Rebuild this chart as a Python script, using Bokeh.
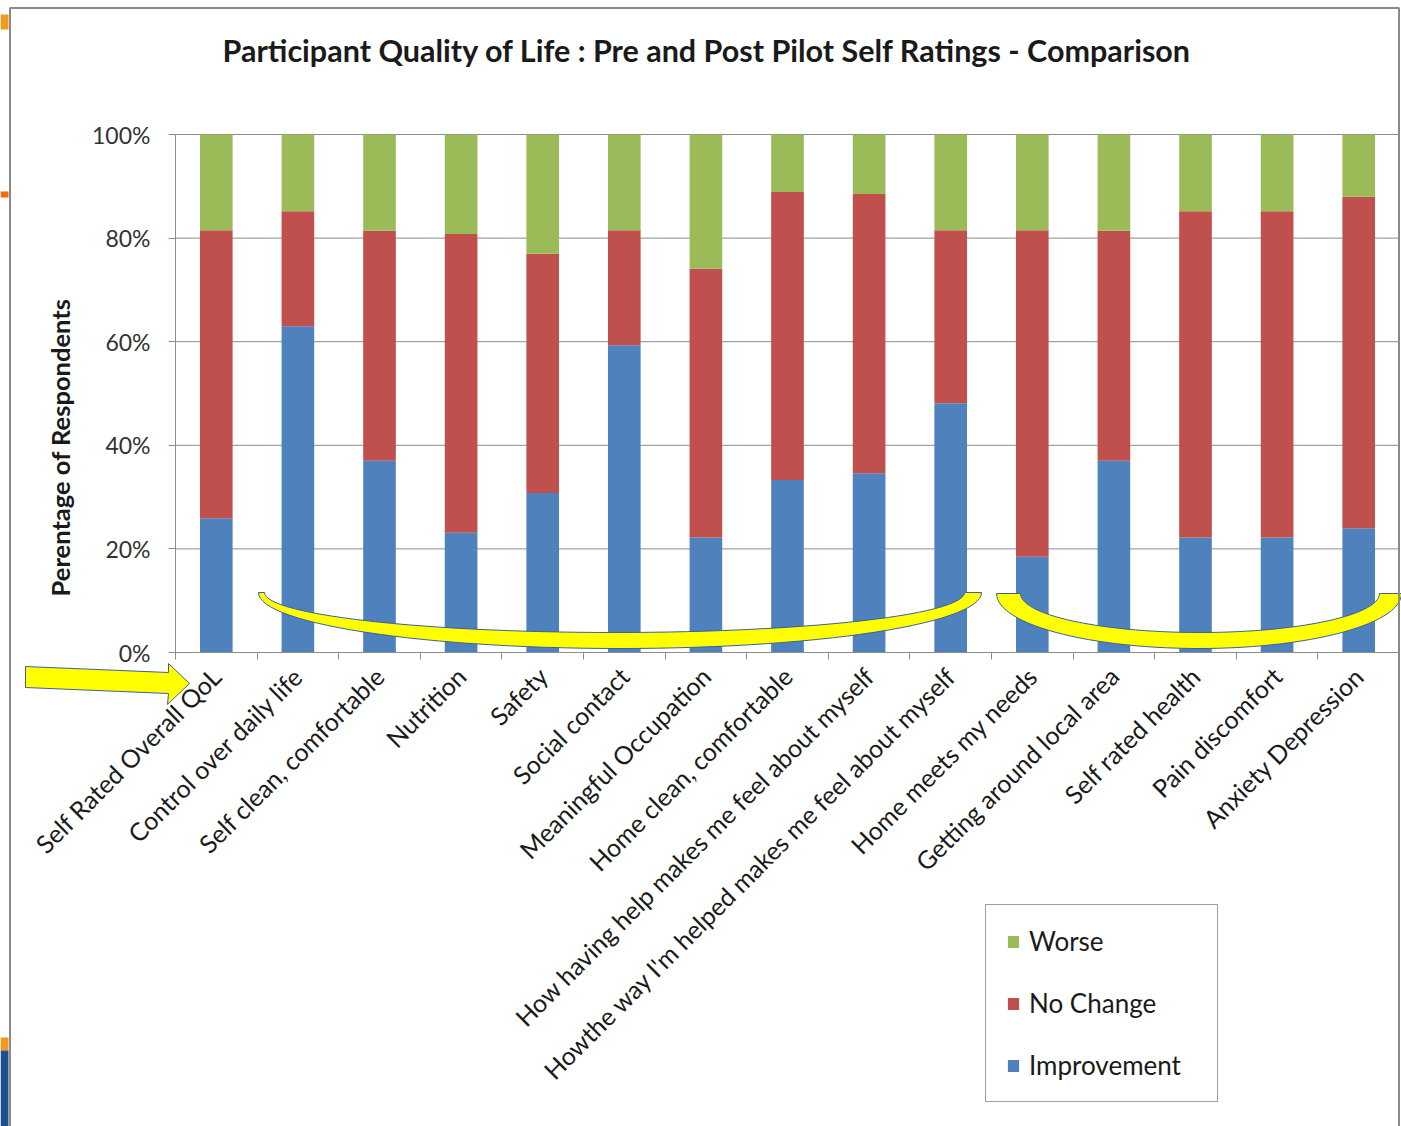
import math
from bokeh.plotting import figure
from bokeh.models import (Range1d, FixedTicker, PrintfTickFormatter, Legend, LegendItem,
                          PolyAnnotation, BoxAnnotation, Label, ColumnDataSource)
from bokeh.embed import file_html
from bokeh.resources import INLINE

# ---------------- data ----------------
categories = [
    "Self Rated Overall QoL",
    "Control over daily life",
    "Self clean, comfortable",
    "Nutrition",
    "Safety",
    "Social contact",
    "Meaningful Occupation",
    "Home clean, comfortable",
    "How having help makes me feel about myself",
    "Howthe way I'm helped makes me feel about myself",
    "Home meets my needs",
    "Getting around local area",
    "Self rated health",
    "Pain discomfort",
    "Anxiety Depression",
]
improvement = [25.9, 63.0, 37.0, 23.1, 30.8, 59.3, 22.2, 33.3, 34.6, 48.1, 18.5, 37.0, 22.2, 22.2, 24.0]
no_change = [55.6, 22.2, 44.4, 57.7, 46.2, 22.2, 51.9, 55.6, 53.9, 33.4, 63.0, 44.4, 63.0, 63.0, 64.0]
worse = [18.5, 14.8, 18.6, 19.2, 23.0, 18.5, 25.9, 11.1, 11.5, 18.5, 18.5, 18.6, 14.8, 14.8, 12.0]
series_names = ["Improvement", "No Change", "Worse"]
y_ticks = [0, 20, 40, 60, 80, 100]
title_text = "Participant Quality of Life : Pre and Post Pilot Self Ratings - Comparison"
y_title = "Perentage of Respondents"

# ---------------- layout (pixels of the 1401x1126 page) ----------------
W, H = 1401, 1126
FL, FR, FT, FB = 175, 1399, 134, 652      # where the plot area of the original chart lies
n = len(categories)
Y0, Y1 = 0, 100

BLUE, RED, GREEN = "#4F81BD", "#C0504D", "#9BBB59"
GRID = "#8c8c8c"
FONT = "Lato"

ux = n / (FR - FL)              # data units per pixel (x)
uy = (Y1 - Y0) / (FB - FT)      # data units per pixel (y)


def dx(px):
    return -0.5 + (px - FL) * ux


def dy(py):
    return Y0 + (FB - py) * uy


source = ColumnDataSource(dict(x=list(range(n)), improvement=improvement,
                               no_change=no_change, worse=worse))

# the frame spans the whole page; axes are pinned at the chart's plot area
p = figure(width=W, height=H, output_backend="svg", toolbar_location=None,
           x_range=Range1d(dx(0), dx(W)), y_range=Range1d(dy(H), dy(0)),
           min_border=0)
p.outline_line_color = None
p.background_fill_color = "white"
p.border_fill_color = "white"
p.title.text = ""
p.title.visible = False

# grid lines over the plot area only
p.segment(x0=[-0.5] * len(y_ticks), x1=[n - 0.5] * len(y_ticks), y0=y_ticks, y1=y_ticks,
          line_color=GRID, line_width=1)

# bars
renderers = p.vbar_stack(["improvement", "no_change", "worse"], x="x", width=0.4,
                         color=[BLUE, RED, GREEN], line_color=None, source=source)

# axes
xa = p.xaxis[0]
xa.fixed_location = Y0
xa.bounds = (-0.5, n - 0.5)
xa.ticker = FixedTicker(ticks=list(range(n)), minor_ticks=[i - 0.5 for i in range(n + 1)])
xa.major_label_overrides = {i: c for i, c in enumerate(categories)}
xa.major_label_orientation = math.pi / 4
xa.major_tick_line_color = None
xa.minor_tick_line_color = GRID
xa.minor_tick_in = 0
xa.minor_tick_out = 7
xa.axis_line_color = GRID
xa.major_label_text_font = FONT
xa.major_label_text_font_size = "25px"
xa.major_label_text_color = "#1a1a1a"
xa.major_label_standoff = 12

ya = p.yaxis[0]
ya.fixed_location = -0.5
ya.bounds = (Y0, Y1)
ya.ticker = FixedTicker(ticks=y_ticks, minor_ticks=[])
ya.formatter = PrintfTickFormatter(format="%d%%")
ya.major_tick_in = 0
ya.major_tick_out = 7
ya.major_tick_line_color = GRID
ya.minor_tick_line_color = None
ya.axis_line_color = GRID
ya.major_label_text_font = FONT
ya.major_label_text_font_size = "23px"
ya.major_label_text_color = "#333333"
ya.major_label_standoff = 18

p.xgrid.visible = False
p.ygrid.visible = False

# title and y axis title
p.add_layout(Label(x=dx(222), y=dy(49), text=title_text, text_align="left",
                   text_baseline="middle", text_font=FONT, text_font_size="30.5px",
                   text_font_style="bold", text_color="#1a1a1a"))
p.add_layout(Label(x=dx(59), y=dy(447), text=y_title, angle=math.pi / 2,
                   text_align="center", text_baseline="middle", text_font=FONT,
                   text_font_size="25.5px", text_font_style="bold", text_color="#1a1a1a"))

# legend
items = [LegendItem(label=series_names[2], renderers=[renderers[2]]),
         LegendItem(label=series_names[1], renderers=[renderers[1]]),
         LegendItem(label=series_names[0], renderers=[renderers[0]])]
legend = Legend(items=items, location=(985, H - 1102),
                glyph_width=14, glyph_height=15, label_standoff=9,
                label_text_font=FONT, label_text_font_size="26px", label_text_color="#1a1a1a",
                label_width=168, spacing=30, padding=20,
                border_line_color="#3f3f3f", border_line_width=1.5,
                background_fill_color="white", background_fill_alpha=1.0)
p.add_layout(legend, "center")

# ---------------- decorations ----------------
def crescent(ox0, ox1, ix0, ix1, top, obot, ibot, steps=60):
    ocx, orx = (ox0 + ox1) / 2, (ox1 - ox0) / 2
    icx, irx = (ix0 + ix1) / 2, (ix1 - ix0) / 2
    ory, iry = obot - top, ibot - top
    xs, ys = [], []
    for k in range(steps + 1):
        t = math.pi * k / steps
        xs.append(ocx - orx * math.cos(t))
        ys.append(top + ory * math.sin(t))
    for k in range(steps, -1, -1):
        t = math.pi * k / steps
        xs.append(icx - irx * math.cos(t))
        ys.append(top + iry * math.sin(t))
    return [dx(v) for v in xs], [dy(v) for v in ys]


for args in [(258, 981, 264, 964, 592, 648, 632), (996, 1401, 1020, 1379, 593, 648, 632)]:
    xs, ys = crescent(*args)
    p.add_layout(PolyAnnotation(xs=xs, ys=ys, fill_color="#FFFF00", fill_alpha=1.0,
                                line_color="#3d5f9e", line_alpha=1.0, line_width=1))

arrow_px = [(25, 666), (168, 672), (168, 663), (189, 683), (167, 704), (168, 693), (25, 687)]
p.add_layout(PolyAnnotation(xs=[dx(a) for a, b in arrow_px], ys=[dy(b) for a, b in arrow_px],
                            fill_color="#FFFF00", fill_alpha=1.0, line_color="#3d5f9e",
                            line_alpha=1.0, line_width=1))

# slide-edge marks and chart border
for (l, r, t, b, c) in [(0, 8, 14, 29, "#F39A1E"), (0, 8, 191, 197, "#F06A10"),
                        (0, 8, 1037, 1050, "#F39A1E"), (0, 8, 1050, 1126, "#1F4E8C")]:
    p.add_layout(BoxAnnotation(left=dx(l), right=dx(r), top=dy(t), bottom=dy(b),
                               fill_color=c, fill_alpha=1.0, line_color=None))
p.add_layout(BoxAnnotation(left=dx(9.5), right=dx(1398.5), top=dy(7.5), bottom=dy(1140),
                           fill_color=None, line_color="#8a8a8a", line_alpha=1.0, line_width=2))

open("out.html", "w").write(file_html(p, INLINE))
